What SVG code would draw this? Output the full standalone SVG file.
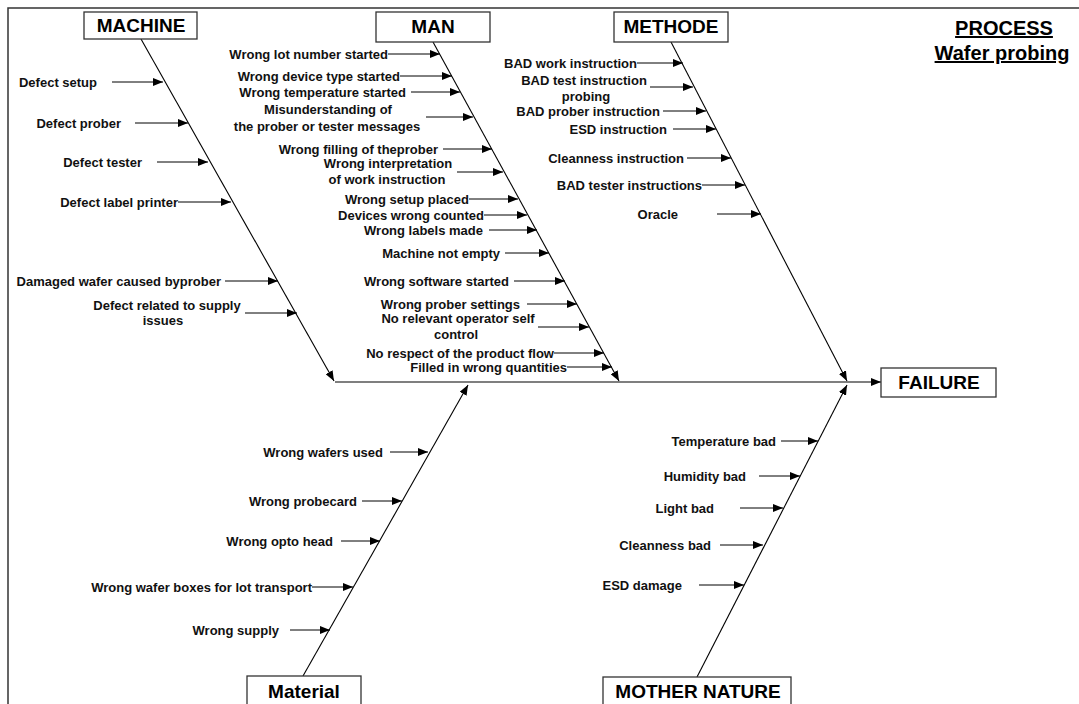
<svg xmlns="http://www.w3.org/2000/svg" width="1079" height="704" viewBox="0 0 1079 704">
<defs>
<marker id="ah" markerWidth="10" markerHeight="8" refX="10" refY="4" orient="auto" markerUnits="userSpaceOnUse"><path d="M0,0 L10,4 L0,8 z" fill="#000"/></marker>
<style>
.box{fill:#fff;stroke:#333;stroke-width:1.3}
.bt{font-family:"Liberation Sans",Arial,sans-serif;font-weight:bold;font-size:19px;text-anchor:middle;fill:#000}
.lb{font-family:"Liberation Sans",Arial,sans-serif;font-weight:bold;font-size:13px;fill:#111}
.e{text-anchor:end}.m{text-anchor:middle}.s{text-anchor:start}
.ar{stroke:#000;stroke-width:1;fill:none;marker-end:url(#ah)}
.bone{stroke:#000;stroke-width:1.1;fill:none;marker-end:url(#ah)}
.ttl{font-family:"Liberation Sans",Arial,sans-serif;font-weight:bold;font-size:20px;text-anchor:middle;text-decoration:underline;fill:#000}
</style>
</defs>
<rect width="1079" height="704" fill="#fff"/>
<path d="M8,704 V8 H1079" fill="none" stroke="#333" stroke-width="1.5"/>
<g id="title">
<text class="ttl" x="1004" y="35">PROCESS</text>
<text class="ttl" x="1002" y="60">Wafer probing</text>
</g>
<g id="connectors">
<path class="bone" d="M141,39 L334,381"/>
<path class="bone" d="M433,42 L619,381"/>
<path class="bone" d="M671,42 L847,381"/>
<path class="bone" d="M303,676 L468,385"/>
<path class="bone" d="M697,677 L847,385"/>
<path class="bone" d="M335,382 L881,382" stroke-width="1.5" stroke="#444"/>
<!-- machine -->
<path class="ar" d="M112,82 H163"/>
<path class="ar" d="M135,123 H188"/>
<path class="ar" d="M157,162 H208"/>
<path class="ar" d="M178,202 H231"/>
<path class="ar" d="M225,281 H278"/>
<path class="ar" d="M245,313 H297"/>
<!-- man -->
<path class="ar" d="M388,54 H440"/>
<path class="ar" d="M400,76 H452"/>
<path class="ar" d="M411,92 H460"/>
<path class="ar" d="M426,117 H473"/>
<path class="ar" d="M443,149 H492"/>
<path class="ar" d="M457,172 H503"/>
<path class="ar" d="M469,199 H518"/>
<path class="ar" d="M484,215 H527"/>
<path class="ar" d="M489,230 H537"/>
<path class="ar" d="M505,253 H549"/>
<path class="ar" d="M514,281 H565"/>
<path class="ar" d="M527,304 H577"/>
<path class="ar" d="M538,327 H589"/>
<path class="ar" d="M554,353 H604"/>
<path class="ar" d="M567,367 H612"/>
<!-- methode -->
<path class="ar" d="M637,63 H683"/>
<path class="ar" d="M650,87 H693"/>
<path class="ar" d="M663,111 H706"/>
<path class="ar" d="M673,129 H716"/>
<path class="ar" d="M687,158 H731"/>
<path class="ar" d="M702,185 H745"/>
<path class="ar" d="M717,214 H761"/>
<!-- material -->
<path class="ar" d="M390,452 H428"/>
<path class="ar" d="M362,501 H402"/>
<path class="ar" d="M341,541 H380"/>
<path class="ar" d="M312,587 H353"/>
<path class="ar" d="M290,630 H330"/>
<!-- mother nature -->
<path class="ar" d="M781,441 H818"/>
<path class="ar" d="M759,476 H800"/>
<path class="ar" d="M740,508 H783"/>
<path class="ar" d="M720,545 H763"/>
<path class="ar" d="M699,585 H744"/>
</g>
<g id="machine">
<rect class="box" x="84" y="12" width="113" height="27"/>
<text class="bt" x="141" y="32">MACHINE</text>
</g>
<g id="man">
<rect class="box" x="376" y="12" width="114" height="30"/>
<text class="bt" x="433" y="33">MAN</text>
</g>
<g id="methode">
<rect class="box" x="614" y="12" width="114" height="30"/>
<text class="bt" x="671" y="33">METHODE</text>
</g>
<g id="failure">
<rect class="box" x="881" y="368" width="115" height="29"/>
<text class="bt" x="939" y="389">FAILURE</text>
</g>
<g id="material">
<rect class="box" x="247" y="676" width="114" height="40"/>
<text class="bt" x="304" y="698">Material</text>
</g>
<g id="mother-nature">
<rect class="box" x="603" y="677" width="188" height="40"/>
<text class="bt" x="698" y="698">MOTHER NATURE</text>
</g>
<g id="machine-causes" class="lb">
<text class="e" x="97" y="87">Defect setup</text>
<text class="e" x="121" y="128">Defect prober</text>
<text class="e" x="142" y="167">Defect tester</text>
<text class="e" x="178" y="207">Defect label printer</text>
<text class="e" x="221" y="286">Damaged wafer caused byprober</text>
<text class="m" x="167" y="310">Defect related to supply</text>
<text class="m" x="163" y="325">issues</text>
</g>
<g id="man-causes" class="lb">
<text class="e" x="388" y="59">Wrong lot number started</text>
<text class="e" x="400" y="81">Wrong device type started</text>
<text class="e" x="406" y="97">Wrong temperature started</text>
<text class="m" x="328" y="114">Misunderstanding of</text>
<text class="m" x="327" y="131">the prober or tester messages</text>
<text class="e" x="438" y="154">Wrong filling of theprober</text>
<text class="m" x="388" y="168">Wrong interpretation</text>
<text class="m" x="387" y="184">of work instruction</text>
<text class="e" x="469" y="204">Wrong setup placed</text>
<text class="e" x="484" y="220">Devices wrong counted</text>
<text class="e" x="483" y="235">Wrong labels made</text>
<text class="e" x="500" y="258">Machine not empty</text>
<text class="e" x="509" y="286">Wrong software started</text>
<text class="e" x="520" y="309">Wrong prober settings</text>
<text class="m" x="458" y="323">No relevant operator self</text>
<text class="m" x="456" y="339">control</text>
<text class="e" x="554" y="358">No respect of the product flow</text>
<text class="e" x="567" y="372">Filled in wrong quantities</text>
</g>
<g id="methode-causes" class="lb">
<text class="e" x="637" y="68">BAD work instruction</text>
<text class="m" x="584" y="85">BAD test instruction</text>
<text class="m" x="586" y="101">probing</text>
<text class="e" x="660" y="116">BAD prober instruction</text>
<text class="e" x="667" y="134">ESD instruction</text>
<text class="e" x="684" y="163">Cleanness instruction</text>
<text class="e" x="702" y="190">BAD tester instructions</text>
<text class="e" x="678" y="219">Oracle</text>
</g>
<g id="material-causes" class="lb">
<text class="e" x="383" y="457">Wrong wafers used</text>
<text class="e" x="357" y="506">Wrong probecard</text>
<text class="e" x="333" y="546">Wrong opto head</text>
<text class="e" x="312" y="592">Wrong wafer boxes for lot transport</text>
<text class="e" x="279" y="635">Wrong supply</text>
</g>
<g id="nature-causes" class="lb">
<text class="e" x="776" y="446">Temperature bad</text>
<text class="e" x="746" y="481">Humidity bad</text>
<text class="e" x="714" y="513">Light bad</text>
<text class="e" x="711" y="550">Cleanness bad</text>
<text class="e" x="682" y="590">ESD damage</text>
</g>
</svg>
